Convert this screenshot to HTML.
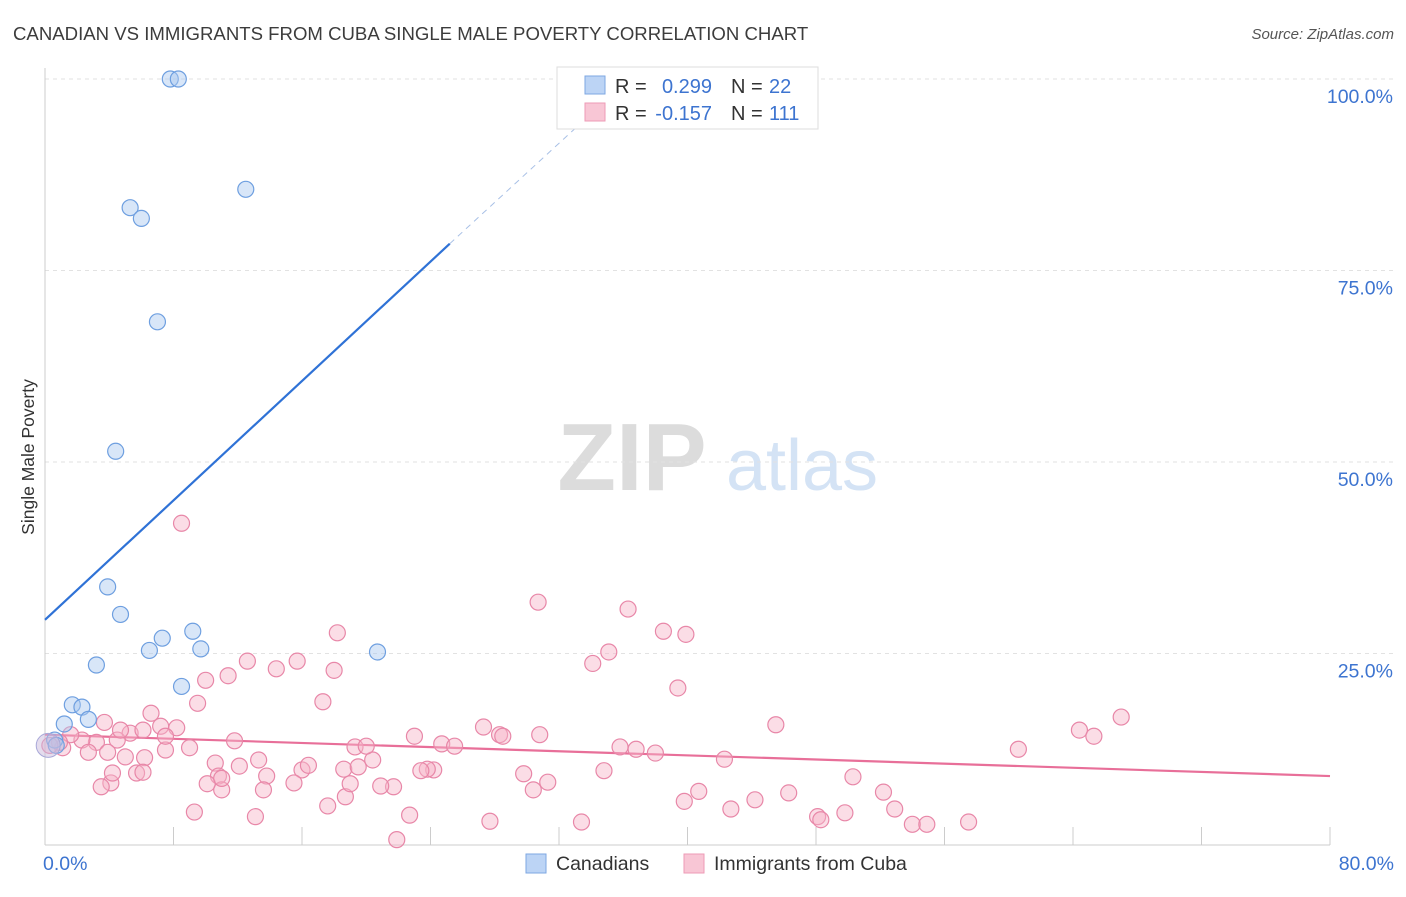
<!DOCTYPE html>
<html><head><meta charset="utf-8">
<style>
body{margin:0;background:#fff;font-family:"Liberation Sans",sans-serif;}
svg text{font-family:"Liberation Sans",sans-serif;}
</style></head>
<body>
<svg id="chart" width="1406" height="892" xmlns="http://www.w3.org/2000/svg">
<text x="13" y="40" font-size="18.6" fill="#3c3c3c">CANADIAN VS IMMIGRANTS FROM CUBA SINGLE MALE POVERTY CORRELATION CHART</text>
<text x="1394" y="39" font-size="15" fill="#555" font-style="italic" text-anchor="end">Source: ZipAtlas.com</text>
<g>
<text x="632" y="490" font-size="96" fill="#dcdcdc" font-family="Liberation Serif" text-anchor="middle" font-weight="bold">ZIP</text>
<text x="802" y="490" font-size="72" fill="#d4e3f5" text-anchor="middle">atlas</text>
</g>
<g id="grid"></g>
<g id="axes"></g>
<g id="lines"></g>
<g id="points"></g>
<text transform="translate(34,457) rotate(-90)" font-size="17.5" fill="#333" text-anchor="middle">Single Male Poverty</text>
<g>
<rect x="557" y="67" width="261" height="62" fill="#fff" stroke="#ddd"/>
<rect x="585" y="76" width="20" height="18" fill="#bcd4f5" stroke="#7ea7e2"/>
<rect x="585" y="103" width="20" height="18" fill="#f8c6d5" stroke="#ee9bb6"/>
<text x="615" y="93" font-size="20" fill="#333">R =</text>
<text x="712" y="93" font-size="20" fill="#3d74d0" text-anchor="end">0.299</text>
<text x="731" y="93" font-size="20" fill="#333">N =</text>
<text x="769" y="93" font-size="20" fill="#3d74d0">22</text>
<text x="615" y="120" font-size="20" fill="#333">R =</text>
<text x="712" y="120" font-size="20" fill="#3d74d0" text-anchor="end">-0.157</text>
<text x="731" y="120" font-size="20" fill="#333">N =</text>
<text x="769" y="120" font-size="20" fill="#3d74d0">111</text>
</g>
<g>
<rect x="526" y="854" width="20" height="19" fill="#bcd4f5" stroke="#7ea7e2"/>
<text x="556" y="870" font-size="19.5" fill="#333">Canadians</text>
<rect x="684" y="854" width="20" height="19" fill="#f8c6d5" stroke="#ee9bb6"/>
<text x="714" y="870" font-size="19.5" fill="#333">Immigrants from Cuba</text>
</g>
</svg>
<script>
const xTicks=[0,8,16,24,32,40,48,56,64,72,80];
const yTicks=[25,50,75,100];
const yTickLabels=["25.0%","50.0%","75.0%","100.0%"];
const xEndLabels=["0.0%","80.0%"];
const blueX=[7.8,8.3,12.5,5.3,6.0,7.0,4.4,3.9,4.7,7.3,6.5,9.2,9.7,3.2,8.5,20.7,1.7,2.3,2.7,1.2,0.6,0.7];
const blueY=[100,100,85.6,83.2,81.8,68.3,51.4,33.7,30.1,27.0,25.4,27.9,25.6,23.5,20.7,25.2,18.3,18.0,16.4,15.8,13.7,13.0];
const pinkX=[8.5,30.7,36.3,18.2,38.5,39.9,35.1,34.1,15.7,12.6,18.0,14.4,39.4,10.0,11.4,17.3,9.5,6.6,7.2,8.2,5.3,4.5,3.2,2.3,1.6,1.1,2.7,3.9,5.0,6.2,7.5,9.0,11.8,13.3,10.6,12.1,13.8,10.8,16.0,16.4,18.6,19.5,20.4,19.3,20.0,23.0,24.7,25.5,27.3,28.3,28.5,30.8,35.8,36.8,38.0,42.3,45.5,64.4,65.3,67.0,60.6,50.3,52.2,52.9,54.0,54.9,57.5,49.8,48.1,48.3,46.3,44.2,42.7,40.7,39.8,34.8,31.3,30.4,29.8,24.2,23.8,23.4,21.7,20.9,18.7,17.6,15.5,13.6,11.0,10.1,9.3,13.1,22.7,21.9,27.7,33.4,4.1,4.2,5.7,6.1,3.5,11.0,19.0,6.1,3.7,4.7,7.5,0.9,0.3];
const pinkY=[42.0,31.7,30.8,27.7,27.9,27.5,25.2,23.7,24.0,24.0,22.8,23.0,20.5,21.5,22.1,18.7,18.5,17.2,15.5,15.3,14.6,13.7,13.4,13.7,14.4,12.7,12.1,12.1,11.5,11.4,12.4,12.7,13.6,11.1,10.7,10.3,9.0,9.0,9.8,10.4,9.9,10.2,11.1,12.8,12.9,14.2,13.2,12.9,15.4,14.4,14.2,14.4,12.8,12.5,12.0,11.2,15.7,15.0,14.2,16.7,12.5,8.9,6.9,4.7,2.7,2.7,3.0,4.2,3.7,3.3,6.8,5.9,4.7,7.0,5.7,9.7,8.2,7.2,9.3,9.8,9.9,9.7,7.6,7.7,6.3,5.1,8.1,7.2,7.2,8.0,4.3,3.7,3.9,0.7,3.1,3.0,8.1,9.4,9.4,9.5,7.6,8.7,8.0,15.0,16.0,15.0,14.2,13.4,13.0];
const blueTrend=[[0,29.4],[25.2,78.5]];
const blueTrendDash=[[25.2,78.5],[33.5,94.5]];
const pinkTrend=[[0,14.4],[80,9.0]];

const NS="http://www.w3.org/2000/svg";
const X0=45,X1=1330,Y0=845,Y100=79;
const sx=v=>X0+(X1-X0)*v/80;
const sy=v=>Y0-(Y0-Y100)*v/100;
function mk(tag,attrs,parent){const e=document.createElementNS(NS,tag);for(const k in attrs)e.setAttribute(k,attrs[k]);parent.appendChild(e);return e;}
const grid=document.getElementById('grid'),axes=document.getElementById('axes'),lines=document.getElementById('lines'),pts=document.getElementById('points');
yTicks.forEach((t,i)=>{
 const l=mk('line',{x1:X0,x2:1394,y1:sy(t),y2:sy(t),stroke:'#e2e2e2','stroke-dasharray':'4,4'},grid);
 
 
 const tx=mk('text',{x:1393,y:sy(t)+24,'font-size':19.5,fill:'#3d74d0','text-anchor':'end'},axes);
 tx.textContent=yTickLabels[i];
 
 
});
const ax=mk('line',{x1:X0,x2:X1,y1:Y0,y2:Y0,stroke:'#ccc'},axes);


const ay=mk('line',{x1:X0,x2:X0,y1:68,y2:Y0,stroke:'#ccc'},axes);


xTicks.forEach(t=>{
 const l=mk('line',{x1:sx(t),x2:sx(t),y1:Y0,y2:Y0-18,stroke:'#ccc'},axes);
 
 
});
[[0,'start',xEndLabels[0]],[80,'end',xEndLabels[1]]].forEach(([v,a,s])=>{
 const t=mk('text',{x:v==0?sx(v)-2:sx(v)+64,y:870,'font-size':19.5,fill:'#3d74d0','text-anchor':a},axes);
 t.textContent=s;
 
 
});
function drawPts(xs,ys,fill,stroke,name){
 xs.forEach((x,i)=>{
  const c=mk('circle',{cx:sx(x),cy:sy(ys[i]),r:8,fill:fill,'fill-opacity':0.45,stroke:stroke,'stroke-width':1.2},pts);
  
  
 });
}
drawPts(pinkX,pinkY,'#f6b3c8','#e887a8','cuba-point');
drawPts(blueX,blueY,'#a9c7f0','#6e9fe0','canadian-point');
const big=mk('circle',{cx:sx(0.2),cy:sy(13),r:12,fill:'#c9b9dc','fill-opacity':0.5,stroke:'#a8a8d8'},pts);


function seg(p,st,w,dash,name){
 const l=mk('line',{x1:sx(p[0][0]),y1:sy(p[0][1]),x2:sx(p[1][0]),y2:sy(p[1][1]),stroke:st,'stroke-width':w},lines);
 if(dash)l.setAttribute('stroke-dasharray',dash);
 
 
}
seg(blueTrend,'#2f72d6',2.2,null,'canadian-trend-line');
seg(blueTrendDash,'#a8c0e6',1,'6,5','canadian-trend-extension');
seg(pinkTrend,'#e86f99',2.2,null,'cuba-trend-line');
</script>
</body></html>
